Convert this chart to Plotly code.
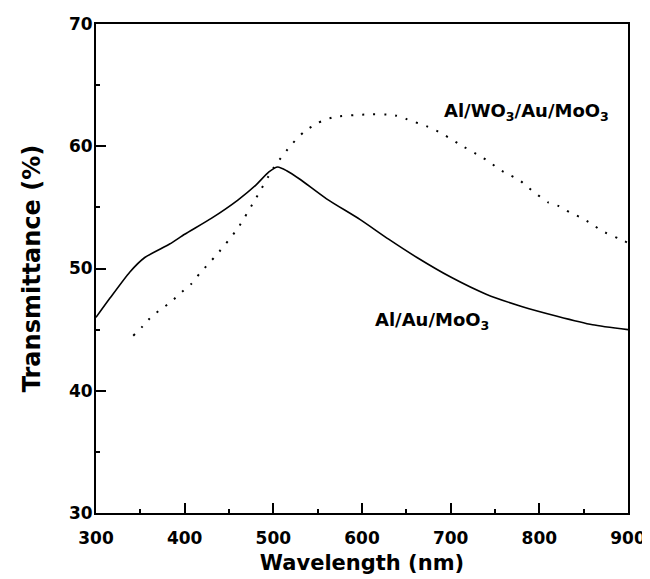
import plotly.graph_objects as go

# Al/Au/MoO3 (solid)
wl_solid = [300, 316, 338, 355, 383, 400, 430, 460, 480, 495, 505, 515, 530, 560, 598, 630, 662, 700, 740, 780, 820, 860, 900]
t_solid = [46.0, 47.6, 49.7, 50.9, 52.0, 52.8, 54.1, 55.6, 56.8, 57.9, 58.3, 58.0, 57.3, 55.7, 54.0, 52.4, 50.9, 49.3, 47.9, 46.9, 46.1, 45.4, 45.0]

# Al/WO3/Au/MoO3 (dotted)
wl_dot = [342, 353, 363, 374, 385, 397, 407, 417, 427, 437, 460, 480, 500, 520, 535, 550, 569, 605, 628, 639, 651, 674, 686, 698, 709, 733, 744, 755, 768, 778, 788, 810, 822, 834, 846, 858, 870, 891, 900]
t_dot = [44.5, 45.3, 46.1, 46.7, 47.3, 48.1, 48.7, 49.6, 50.4, 51.2, 53.3, 55.7, 58.2, 60.1, 61.2, 61.9, 62.4, 62.6, 62.6, 62.5, 62.2, 61.6, 61.2, 60.7, 60.2, 59.2, 58.7, 58.1, 57.6, 57.2, 56.6, 55.4, 55.1, 54.6, 54.2, 53.7, 53.1, 52.4, 52.1]

x_range = [300, 900]
y_range = [30, 70]
x_major, x_minor = 100, 50
y_major, y_minor = 10, 5

label_1 = "Al/WO<sub>3</sub>/Au/MoO<sub>3</sub>"
label_2 = "Al/Au/MoO<sub>3</sub>"

font_fam = "DejaVu Sans, Liberation Sans, sans-serif"

fig = go.Figure()
fig.add_trace(go.Scatter(x=wl_solid, y=t_solid, mode="lines",
                         line=dict(color="black", width=1.6, shape="spline", smoothing=0.6), showlegend=False))
fig.add_trace(go.Scatter(x=wl_dot, y=t_dot, mode="lines",
                         line=dict(color="black", width=2, dash="2px,9px", shape="spline", smoothing=0.6), showlegend=False))

fig.add_annotation(x=785, y=62.8, text=label_1, showarrow=False,
                   font=dict(family=font_fam, size=18, color="black", weight="bold"))
fig.add_annotation(x=679, y=45.7, text=label_2, showarrow=False,
                   font=dict(family=font_fam, size=18, color="black", weight="bold"))

tick_font = dict(family=font_fam, size=17, color="black", weight="bold")

fig.update_layout(
    template="none",
    width=650, height=579, margin=dict(l=88, r=30, t=16, b=74),
    plot_bgcolor="white", paper_bgcolor="white",
    xaxis=dict(range=x_range, tick0=x_range[0], dtick=x_major, showline=True, linecolor="black", linewidth=2,
               mirror=True, ticks="inside", ticklen=10, tickwidth=2, tickcolor="black",
               showgrid=False, zeroline=False, automargin=False, layer="above traces",
               minor=dict(ticks="inside", ticklen=4, tickwidth=2, tickcolor="black", dtick=x_minor, showgrid=False),
               tickfont=tick_font, ticklabelstandoff=9,
               title=dict(text="Wavelength (nm)", standoff=8,
                          font=dict(family=font_fam, size=21, color="black", weight="bold"))),
    yaxis=dict(range=y_range, tick0=y_range[0], dtick=y_major, showline=True, linecolor="black", linewidth=2,
               mirror=True, ticks="inside", ticklen=10, tickwidth=2, tickcolor="black",
               showgrid=False, zeroline=False, automargin=False, layer="above traces",
               minor=dict(ticks="inside", ticklen=4, tickwidth=2, tickcolor="black", dtick=y_minor, showgrid=False),
               tickfont=tick_font, ticklabelstandoff=-2,
               title=dict(text="Transmittance (%)", standoff=22,
                          font=dict(family=font_fam, size=24, color="black", weight="bold"))),
)

fig.write_html("out.html")
